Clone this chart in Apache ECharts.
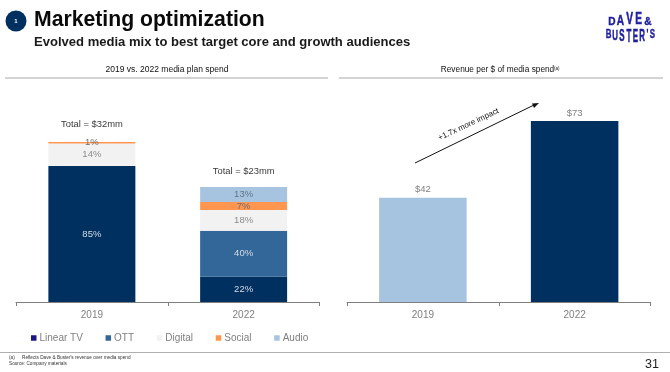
<!DOCTYPE html>
<html><head><meta charset="utf-8">
<style>html,body{margin:0;padding:0;background:#fff}#c{width:670px;height:372px}</style>
<script src="https://cdn.jsdelivr.net/npm/echarts@6/dist/echarts.min.js"></script>
</head><body><div id="c"></div>
<script>
const years = ['2019', '2022'];
const totals = [32, 23];
const mediaNames = ['Linear TV', 'OTT', 'Digital', 'Social', 'Audio'];
const linearShare = [85, 22];
const ottShare = [null, 40];
const digitalShare = [14, 18];
const socialShare = [1, 7];
const audioShare = [null, 13];
const revenuePerDollar = [42, 73];

const shares = [linearShare, ottShare, digitalShare, socialShare, audioShare];
const barColors = ['#003060', '#336699', '#F2F2F2', '#FF9650', '#A6C4E0'];
const legendColors = ['#1C1488', '#336699', '#F2F2F2', '#FF9650', '#A6C4E0'];
const labelColors = ['#D5DCE6', '#D5DCE6', '#8C8C8C', '#6E6E6E', '#5F7488'];
const FONT = 'Liberation Sans';

const stackSeries = mediaNames.map((name, i) => ({
  name, type: 'bar', stack: 'mix', xAxisIndex: 0, yAxisIndex: 0, barWidth: 87,
  itemStyle: { color: barColors[i] },
  label: { show: true, position: 'inside', fontFamily: FONT, fontSize: 9.5, color: labelColors[i],
    formatter: p => shares[i][p.dataIndex] + '%' },
  data: shares[i].map((s, j) => s == null ? null : s * totals[j] / 100)
}));

const totalSeries = {
  name: 'Total', type: 'scatter', xAxisIndex: 0, yAxisIndex: 0, symbolSize: 0, silent: true,
  itemStyle: { color: 'transparent' },
  label: { show: true, position: 'top', fontFamily: FONT, fontSize: 9.4, color: '#000',
    formatter: p => 'Total = $' + p.value + 'mm' },
  data: [{ value: totals[0], label: { distance: 13 } }, { value: totals[1], label: { distance: 11 } }]
};

const revenueSeries = {
  name: 'Revenue', type: 'bar', xAxisIndex: 1, yAxisIndex: 1, barWidth: 87.5,
  label: { show: true, position: 'top', distance: 3, fontFamily: FONT, fontSize: 9.5, color: '#7F7F7F',
    formatter: p => '$' + p.value },
  data: [
    { value: revenuePerDollar[0], itemStyle: { color: '#A6C4E0' } },
    { value: revenuePerDollar[1], itemStyle: { color: '#003060' } }
  ]
};

const axisCommon = {
  type: 'category', data: years,
  axisLine: { lineStyle: { color: '#7F7F7F', width: 1 } },
  axisTick: { show: true, length: 4, lineStyle: { color: '#7F7F7F' } },
  axisLabel: { fontFamily: FONT, fontSize: 10, color: '#7F7F7F', margin: 8 }
};
const valueCommon = { type: 'value', show: false, min: 0, splitLine: { show: false } };

const txt = (x, y, text, size, extra) => ({ type: 'text', x, y, silent: true,
  style: Object.assign({ text, fontFamily: FONT, fontSize: size, fill: '#111', textVerticalAlign: 'middle' }, extra || {}) });
const rule = (x1, x2, y, color) => ({ type: 'line', silent: true, shape: { x1, y1: y, x2, y2: y },
  style: { stroke: color || '#A6A6A6', lineWidth: 1 } });

const logoRow = (letters, xs, ys, scales, sx, align) => letters.map((ch, i) => ({
  type: 'text', x: xs[i], y: ys[i], scaleX: sx, scaleY: scales[i], silent: true,
  style: { text: ch, fontFamily: FONT, fontWeight: 'bold', fontSize: 11, fill: '#1E1E9E', stroke: '#1E1E9E', lineWidth: 0.4,
    textAlign: 'center', textVerticalAlign: align }
}));

const graphic = [
  { type: 'circle', shape: { cx: 16, cy: 21, r: 10.5 }, style: { fill: '#003060' }, silent: true },
  txt(16, 21, '1', 6, { fill: '#fff', fontWeight: 'bold', textAlign: 'center' }),
  txt(34, 20.5, 'Marketing optimization', 21.2, { fontWeight: 'bold', fill: '#0A0A0A' }),
  txt(34, 42, 'Evolved media mix to best target core and growth audiences', 13.05, { fontWeight: 'bold', fill: '#1A1A1A' }),
  txt(167, 70, '2019 vs. 2022 media plan spend', 8.5, { textAlign: 'center', fill: '#111' }),
  txt(497.5, 70, 'Revenue per $ of media spend', 8.3, { textAlign: 'center', fill: '#111' }),
  txt(554, 68.5, '(a)', 4.5, { fill: '#111' }),
  rule(5, 328, 78), rule(339, 663, 78), rule(0, 670, 352.5, '#B0B0B0'),
  { type: 'line', silent: true, shape: { x1: 415, y1: 163, x2: 534, y2: 105 }, style: { stroke: '#111', lineWidth: 1 } },
  { type: 'polygon', silent: true, shape: { points: [[539, 103], [532, 103.5], [534, 108]] }, style: { fill: '#111' } },
  { type: 'text', x: 468.5, y: 124.5, rotation: 0.44, silent: true,
    style: { text: '+1.7x more impact', fontFamily: FONT, fontSize: 8, fill: '#111', textAlign: 'center', textVerticalAlign: 'middle' } },
  txt(9, 358, '(a)', 4.7, { fill: '#333' }),
  txt(22, 358, "Reflects Dave & Buster's revenue over media spend", 4.7, { fill: '#333' }),
  txt(9, 364, 'Source: Company materials', 4.7, { fill: '#333' }),
  txt(645, 365, '31', 12.5, { fill: '#222' })
].concat(
  logoRow(['D', 'A', 'V', 'E', '&'], [612, 620.5, 629.5, 638.5, 648], [28, 28, 28, 28, 28],
    [1.05, 1.35, 1.5, 1.45, 1.05], 0.92, 'bottom'),
  logoRow(['B', 'U', 'S', 'T', 'E', 'R', "'", 'S'], [608.5, 615, 622, 629, 635.5, 642, 647.5, 652.5], [28, 28, 28, 28, 28, 28, 28, 28],
    [1.15, 1.4, 1.55, 1.6, 1.6, 1.5, 1.2, 1.2], 0.72, 'top')
);

echarts.init(document.getElementById('c'), null, { renderer: 'canvas' }).setOption({
  animation: false,
  backgroundColor: '#fff',
  textStyle: { fontFamily: FONT },
  grid: [
    { left: 16, width: 303.5, top: 102, height: 200, containLabel: false },
    { left: 347, width: 303.5, top: 103.6, height: 198.4, containLabel: false }
  ],
  xAxis: [Object.assign({ gridIndex: 0 }, axisCommon), Object.assign({ gridIndex: 1 }, axisCommon)],
  yAxis: [Object.assign({ gridIndex: 0, max: 40 }, valueCommon), Object.assign({ gridIndex: 1, max: 80 }, valueCommon)],
  legend: {
    left: 26, top: 328, itemWidth: 5.5, itemHeight: 5.5, itemGap: 22.7, icon: 'rect',
    textStyle: { fontFamily: FONT, fontSize: 10, color: '#7F7F7F', padding: [0, 0, 0, -2] },
    data: mediaNames.map((name, i) => ({ name, itemStyle: { color: legendColors[i] } }))
  },
  series: stackSeries.concat([totalSeries, revenueSeries]),
  graphic
});
</script></body></html>
